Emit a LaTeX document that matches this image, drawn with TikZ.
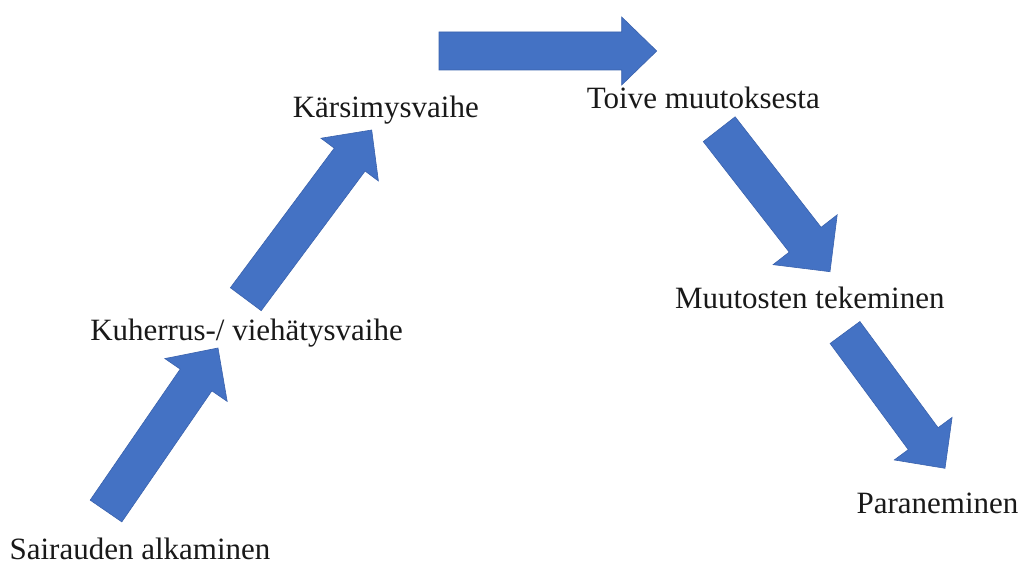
\documentclass[tikz,border=0pt]{standalone}
\usepackage{fontspec}
\setmainfont{Liberation Serif}
\usetikzlibrary{calc}
\definecolor{arrowfill}{HTML}{4472C4}
\definecolor{arrowedge}{HTML}{3A62AD}
\tikzset{
  fatarrowstyle/.style={fill=arrowfill, draw=arrowedge, line width=0.6pt, line join=miter},
  label text/.style={anchor=base, inner sep=0pt, font=\fontsize{31}{36}\selectfont, text=black!90}
}
\newcommand\fatarrow[6]{% name, tail, tip, shaft half width, head half width, head length
  \coordinate (#1-t) at #2;
  \coordinate (#1-p) at #3;
  \coordinate (#1-h) at ($(#1-p)!#6!(#1-t)$);
  \path[fatarrowstyle] ($(#1-t)!#4!90:(#1-p)$) -- ($(#1-h)!#4!90:(#1-p)$) -- ($(#1-h)!#5!90:(#1-p)$) -- (#1-p)
    -- ($(#1-h)!#5!-90:(#1-p)$) -- ($(#1-h)!#4!-90:(#1-p)$) -- ($(#1-t)!#4!-90:(#1-p)$) -- cycle;
}
\begin{document}
\begin{tikzpicture}[x=1pt,y=-1pt]
\useasboundingbox (0,0) rectangle (1019,567);
% arrows
\fatarrow{a1}{(106,511)}{(218,348)}{19.2pt}{37.8pt}{38.8pt}
\fatarrow{a2}{(245.8,299.2)}{(371.7,130)}{19.2pt}{35.8pt}{36.9pt}
\fatarrow{a3}{(439,51)}{(656.7,51)}{19pt}{34pt}{35pt}
\fatarrow{a4}{(719.2,129.2)}{(830,271.7)}{20.2pt}{40.6pt}{40.5pt}
\fatarrow{a5}{(845,332.5)}{(945,468.3)}{18.5pt}{35.9pt}{36.8pt}
% labels
\node[label text] (sairaus) at (140,559) {Sairauden alkaminen};
\node[label text] (kuherrus) at (246.5,340) {Kuherrus-/ viehätysvaihe};
\node[label text] (karsimys) at (385.8,117.3) {Kärsimysvaihe};
\node[label text] (toive) at (703.3,108.3) {Toive muutoksesta};
\node[label text] (muutos) at (809.8,308.3) {Muutosten tekeminen};
\node[label text] (paran) at (937.5,513.3) {Paraneminen};
\end{tikzpicture}
\end{document}
